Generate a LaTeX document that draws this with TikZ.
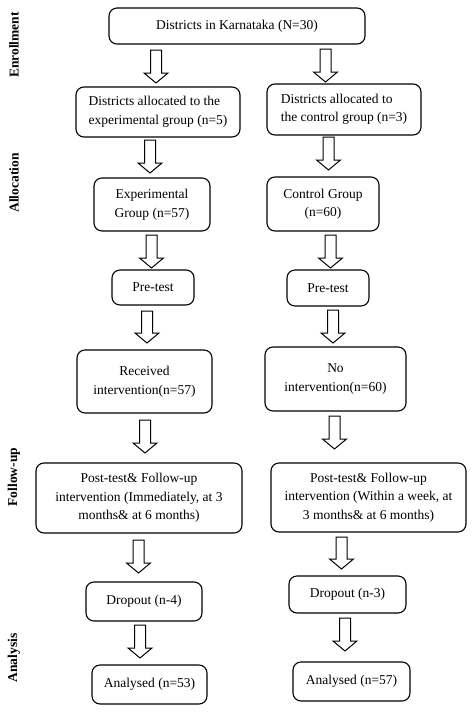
\documentclass[tikz,border=0pt]{standalone}
\usepackage{fontspec}
\setmainfont{Liberation Serif}
\begin{document}
\begin{tikzpicture}[x=1pt,y=-1pt,
  box/.style={draw=black,line width=1.1pt,rounded corners=8pt,inner sep=2pt,font=\fontsize{13.5}{18.5}\selectfont,align=center},
  arr/.style={draw=black,line width=1pt,fill=white,line join=miter},
  side/.style={rotate=90,font=\fontsize{13.5}{16}\selectfont\bfseries}]
\useasboundingbox (0,0) rectangle (474,713);
\newcommand\blockarr[3]{\draw[arr] (#1-5.5,#2) -- (#1+5.5,#2) -- (#1+5.5,#3-10) -- (#1+12,#3-10) -- (#1,#3) -- (#1-12,#3-10) -- (#1-5.5,#3-10) -- cycle;}
% side labels
\node[side] (lenr) at (14,45) {Enrollment};
\node[side] (lall) at (14,183) {Allocation};
\node[side] (lfol) at (14,477) {Follow-up};
\node[side] (lana) at (14,658) {Analysis};
% boxes
\node[box,minimum width=256,minimum height=36] (b1) at (237,26) {Districts in Karnataka (N=30)};
\node[box,minimum width=164,minimum height=50,align=left] (b2l) at (158,112) {Districts allocated to the\\experimental group (n=5)};
\node[box,minimum width=154,minimum height=51,align=left] (b2r) at (344,109.5) {Districts allocated to\\the control group (n=3)};
\node[box,minimum width=116,minimum height=53] (b3l) at (152,204.5) {Experimental\\Group (n=57)};
\node[box,minimum width=112,minimum height=54] (b3r) at (323,204) {Control Group\\(n=60)};
\node[box,minimum width=82,minimum height=35] (b4l) at (153,287.5) {Pre-test};
\node[box,minimum width=82,minimum height=36] (b4r) at (328,288) {Pre-test};
\node[box,minimum width=135,minimum height=63] (b5l) at (144.5,381.5) {Received\\intervention(n=57)};
\node[box,minimum width=141,minimum height=64] (b5r) at (335.5,379) {No\\intervention(n=60)};
\node[box,minimum width=206,minimum height=70] (b6l) at (139,498) {Post-test\& Follow-up\\intervention (Immediately, at 3\\months\& at 6 months)};
\node[box,minimum width=195,minimum height=69] (b6r) at (368.5,497.5) {Post-test\& Follow-up\\intervention (Within a week, at\\3 months\& at 6 months)};
\node[box,minimum width=116,minimum height=39] (b7l) at (144,601.5) {Dropout (n-4)};
\node[box,minimum width=117,minimum height=37] (b7r) at (347.5,594.5) {Dropout (n-3)};
\node[box,minimum width=115,minimum height=39] (b8l) at (149.5,684.5) {Analysed (n=53)};
\node[box,minimum width=117,minimum height=39] (b8r) at (351.5,681.5) {Analysed (n=57)};
% arrows
\blockarr{156}{50}{83}
\blockarr{325.5}{49}{82}
\blockarr{150}{140}{173}
\blockarr{328.5}{137}{170}
\blockarr{151.5}{235}{268}
\blockarr{330.5}{235}{268}
\blockarr{147}{311}{343}
\blockarr{333}{310}{343}
\blockarr{145}{420}{453}
\blockarr{334.5}{416}{449}
\blockarr{138.5}{540}{573}
\blockarr{341.5}{537}{569}
\blockarr{140}{625}{658}
\blockarr{345}{618}{651}
\end{tikzpicture}
\end{document}
